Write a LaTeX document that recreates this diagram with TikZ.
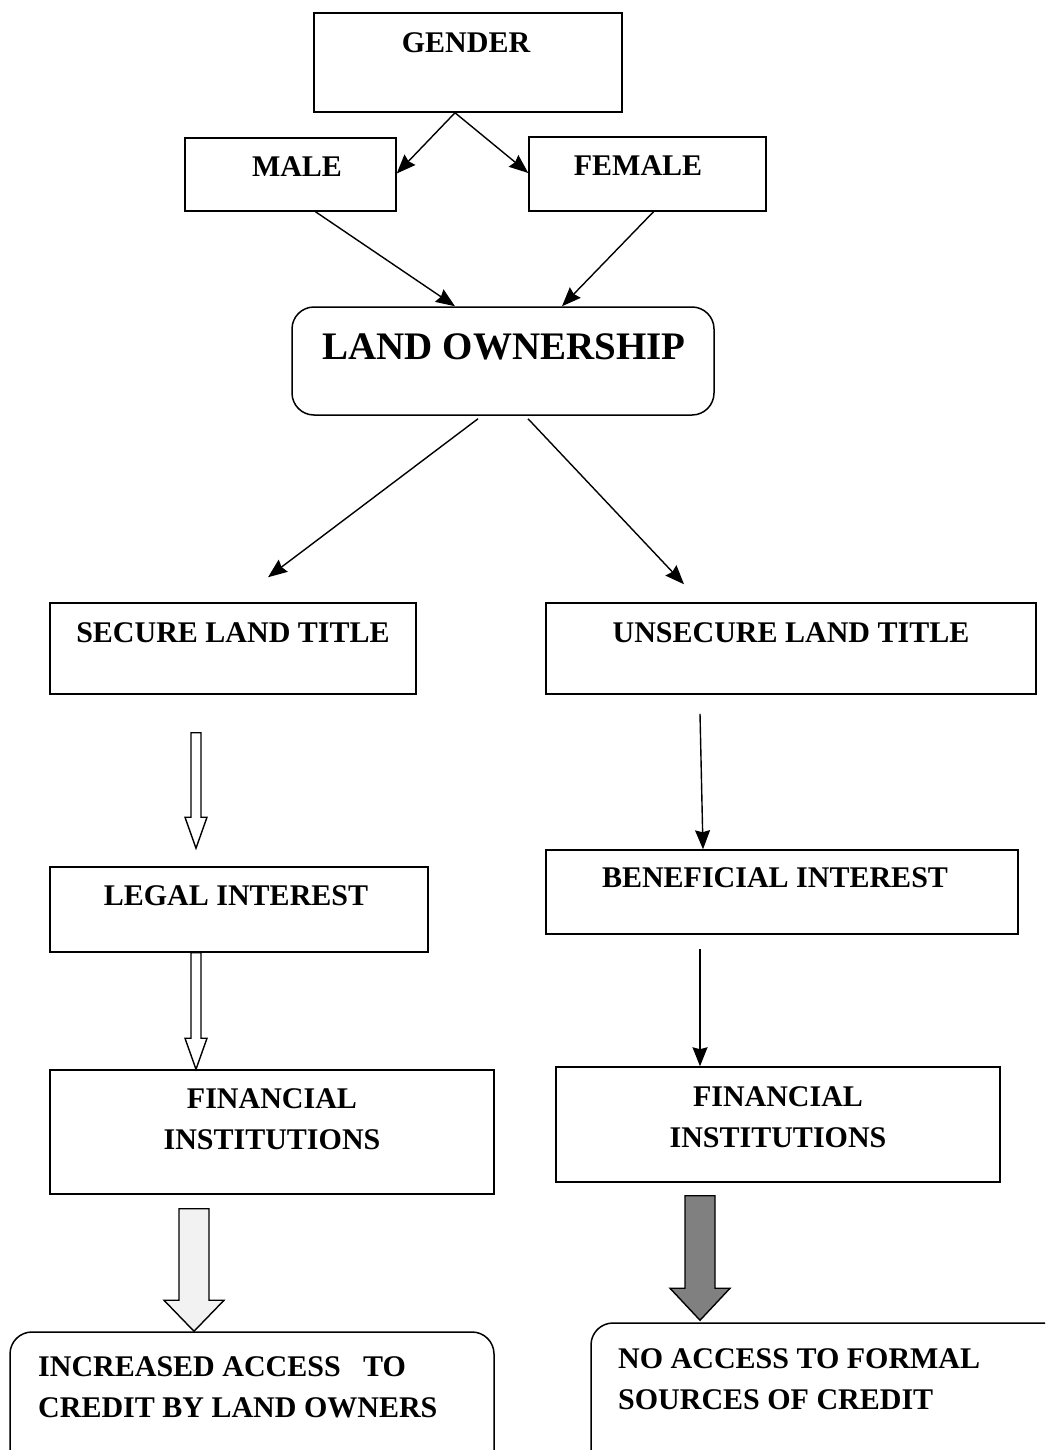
\documentclass[tikz,border=0pt]{standalone}
\usepackage{fontspec}
\setmainfont{Liberation Serif}
\usetikzlibrary{arrows.meta,calc}
\tikzset{
  box/.style={draw, line width=1.5pt, rectangle, inner sep=0pt},
  rbox/.style={draw, line width=1.5pt, rectangle, rounded corners=22pt, inner sep=0pt},
  txt/.style={inner sep=0pt, anchor=north, font=\fontsize{30}{41}\selectfont\bfseries, align=center},
  bigtxt/.style={inner sep=0pt, anchor=north, font=\fontsize{39}{44}\selectfont\bfseries},
  ltxt/.style={inner sep=0pt, anchor=north west, font=\fontsize{30}{41}\selectfont\bfseries, align=left},
  arr/.style={line width=1.4pt, -{Stealth[length=19pt,width=15pt,inset=2pt]}},
  blk/.style={line width=1.4pt, draw=black, line join=miter}
}
\newcommand\blockarrow[6]{%
  \draw[blk, fill=#6] let \p1=(#1), \p2=(#2) in
    (\x2-#3pt,\y1) -- (\x2-#3pt,\y2+#5pt) -- (\x2-#4pt,\y2+#5pt) -- (\x2,\y2)
    -- (\x2+#4pt,\y2+#5pt) -- (\x2+#3pt,\y2+#5pt) -- (\x2+#3pt,\y1) -- cycle;}
\begin{document}
\begin{tikzpicture}[x=1pt,y=-1pt]
\useasboundingbox (0,0) rectangle (1045,1450);
\clip (0,0) rectangle (1045,1450);
\fill[white] (0,0) rectangle (1045,1450);

% boxes
\node[box, minimum width=308pt, minimum height=99pt] (gender) at (468,62.5) {};
\node[box, minimum width=211pt, minimum height=73pt] (male) at (290.5,174.5) {};
\node[box, minimum width=237pt, minimum height=74pt] (female) at (647.5,174) {};
\node[rbox, minimum width=422pt, minimum height=108pt] (land) at (503,361) {};
\node[box, minimum width=366pt, minimum height=91pt] (secure) at (233,648.5) {};
\node[box, minimum width=490pt, minimum height=91pt] (unsecure) at (791,648.5) {};
\node[box, minimum width=378pt, minimum height=85pt] (legal) at (239,909.5) {};
\node[box, minimum width=472pt, minimum height=84pt] (benef) at (782,892) {};
\node[box, minimum width=444pt, minimum height=124pt] (finl) at (272,1132) {};
\node[box, minimum width=444pt, minimum height=115pt] (finr) at (778,1124.5) {};
\node[rbox, minimum width=484pt, minimum height=160pt] (incr) at (252,1412) {};
\node[rbox, minimum width=480pt, minimum height=170pt] (noacc) at (831,1408) {};

% texts
\node[txt] (tgender) at (466,32) {GENDER};
\node[txt] (tmale) at (297,156) {MALE};
\node[txt] (tfemale) at (638,155) {FEMALE};
\node[bigtxt] (tland) at (504,333) {LAND OWNERSHIP};
\node[txt] (tsecure) at (233,622) {SECURE LAND TITLE};
\node[txt] (tunsecure) at (791,622) {UNSECURE LAND TITLE};
\node[txt] (tlegal) at (236,885) {LEGAL INTEREST};
\node[txt] (tbenef) at (775,867) {BENEFICIAL INTEREST};
\node[txt] (tfinl) at (272,1088) {FINANCIAL\\INSTITUTIONS};
\node[txt] (tfinr) at (778,1086) {FINANCIAL\\INSTITUTIONS};
\node[ltxt] (tincr) at (38,1356) {INCREASED ACCESS\ \ \ TO\\CREDIT BY LAND OWNERS};
\node[ltxt] (tnoacc) at (618,1348) {NO ACCESS TO FORMAL\\SOURCES OF CREDIT};

% connectors
\draw[arr] ([xshift=-13pt]gender.south) -- ([yshift=1pt]male.east);
\draw[arr] ([xshift=-13pt]gender.south) -- ([yshift=1pt]female.west);
\draw[arr] ([xshift=25pt]male.south) -- ([xshift=-48pt]land.north);
\draw[arr] ([xshift=6pt]female.south) -- ([xshift=59pt]land.north);
\draw[arr] ([xshift=-25pt,yshift=-3pt]land.south) -- ([xshift=35pt,yshift=25pt]secure.north);
\draw[arr] ([xshift=25pt,yshift=-3pt]land.south) -- ([xshift=-107pt,yshift=18pt]unsecure.north);
\draw[arr] ([xshift=-91pt,yshift=-19pt]unsecure.south) -- ([xshift=-79pt]benef.north);
\draw[arr] ([xshift=-82pt,yshift=-14pt]benef.south) -- ([xshift=-78pt]finr.north);

% block arrows
\blockarrow{$(secure.south)+(-37,38)$}{$(legal.north)+(-43,-18)$}{5}{11}{31}{white}
\blockarrow{legal.south}{$(finl.north)+(-76,0)$}{5}{11}{31}{white}
\blockarrow{$(finl.south)+(-78,14)$}{$(incr.north)+(-58,0)$}{15}{30}{31}{black!5}
\blockarrow{$(finr.south)+(-78,13)$}{$(noacc.north)+(-131,-2)$}{15}{30}{32}{black!50}
\end{tikzpicture}
\end{document}
